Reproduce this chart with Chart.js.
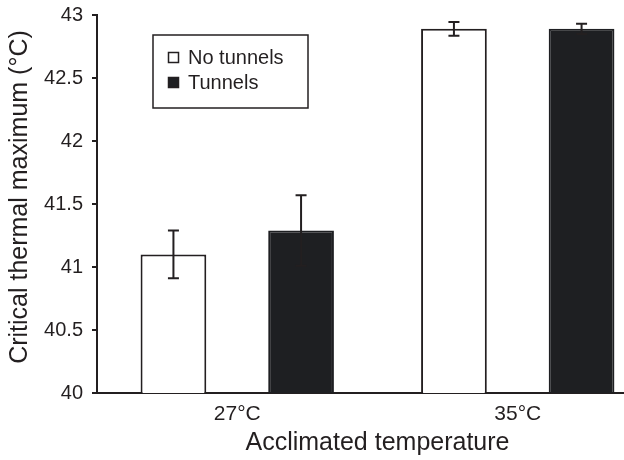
<!DOCTYPE html>
<html>
<head>
<meta charset="utf-8">
<script src="https://cdn.jsdelivr.net/npm/chart.js@4"></script>
<style>
  html, body { margin: 0; padding: 0; background: #fff; overflow: hidden; }
  /* the original plot is cut off at the right edge, so the canvas is wider than the window */
  #wrap { width: 624px; height: 460px; overflow: hidden; }
  #ctmaxChart { display: block; }
</style>
</head>
<body>
<div id="wrap"><canvas id="ctmaxChart" width="658" height="460"></canvas></div>
<script>
// --- Data ---
const categories = ["27°C", "35°C"];
const seriesNames = ["No tunnels", "Tunnels"];
const noTunnels = [41.10, 42.89];
const tunnels = [41.29, 42.89];
const noTunnelsErr = [0.19, 0.055];
const tunnelsErr = [0.28, 0.04];
const yTicks = [40, 40.5, 41, 41.5, 42, 42.5, 43];

const ink = "#231f20";
const fontFamily = "'Liberation Sans', Arial, Helvetica, sans-serif";

// --- Error bars (mean +/- SE) ---
const errorBars = {
  id: "errorBars",
  afterDatasetsDraw(chart) {
    const { ctx } = chart;
    const y = chart.scales.y;
    chart.data.datasets.forEach((ds, i) => {
      const meta = chart.getDatasetMeta(i);
      meta.data.forEach((bar, j) => {
        const v = ds.data[j], e = ds.err[j];
        const top = y.getPixelForValue(v + e);
        const bottom = y.getPixelForValue(v - e);
        const half = 5.5;
        ctx.save();
        ctx.strokeStyle = ink;
        ctx.lineWidth = 2;
        ctx.beginPath();
        ctx.moveTo(bar.x, top);
        ctx.lineTo(bar.x, bottom);
        ctx.moveTo(bar.x - half, top);
        ctx.lineTo(bar.x + half, top);
        ctx.moveTo(bar.x - half, bottom);
        ctx.lineTo(bar.x + half, bottom);
        ctx.stroke();
        ctx.restore();
      });
    });
  }
};

// --- Boxed legend inside the plot ---
const boxLegend = {
  id: "boxLegend",
  afterDraw(chart) {
    const { ctx } = chart;
    ctx.save();
    ctx.strokeStyle = ink;
    ctx.lineWidth = 1.5;
    ctx.strokeRect(153, 35, 155, 73);
    ctx.font = "20px " + fontFamily;
    ctx.textBaseline = "middle";
    chart.data.datasets.forEach((ds, i) => {
      const cy = 57.5 + i * 25;
      ctx.fillStyle = ds.backgroundColor;
      ctx.fillRect(168, cy - 5.5, 11, 11);
      ctx.lineWidth = 1.5;
      ctx.strokeStyle = ink;
      ctx.strokeRect(168.5, cy - 5, 10, 10);
      ctx.fillStyle = ink;
      ctx.fillText(ds.label, 188, cy + 1);
    });
    ctx.restore();
  }
};

const ctx = document.getElementById("ctmaxChart").getContext("2d");
new Chart(ctx, {
  type: "bar",
  data: {
    labels: categories,
    datasets: [
      {
        label: seriesNames[0],
        data: noTunnels,
        err: noTunnelsErr,
        backgroundColor: "#ffffff",
        borderColor: ink,
        borderWidth: 2
      },
      {
        label: seriesNames[1],
        data: tunnels,
        err: tunnelsErr,
        backgroundColor: "#1e1f22",
        borderColor: "#1e1f22",
        borderWidth: 2
      }
    ]
  },
  options: {
    responsive: false,
    animation: false,
    devicePixelRatio: 1,
    categoryPercentage: 0.91,
    barPercentage: 0.515,
    layout: { padding: { top: 15, right: 0, bottom: 0, left: 0 } },
    plugins: {
      legend: { display: false },
      tooltip: { enabled: false }
    },
    scales: {
      x: {
        grid: { drawOnChartArea: false, drawTicks: false },
        border: { display: true, color: ink, width: 2 },
        ticks: { color: ink, padding: 9, font: { family: fontFamily, size: 21 } },
        title: {
          display: true,
          text: "Acclimated temperature",
          color: ink,
          padding: { top: 0, bottom: 2 },
          font: { family: fontFamily, size: 25 }
        },
        afterFit: (scale) => { scale.height = 67; }
      },
      y: {
        min: 40,
        max: 43,
        afterBuildTicks: (scale) => { scale.ticks = yTicks.map(v => ({ value: v })); },
        grid: { drawOnChartArea: false, drawTicks: true, tickLength: 5, color: ink, lineWidth: 2 },
        border: { display: true, color: ink, width: 2 },
        ticks: {
          color: ink,
          padding: 9,
          font: { family: fontFamily, size: 20 },
          callback: (value) => String(value)
        },
        title: {
          display: true,
          text: "  Critical thermal maximum (°C)",
          color: ink,
          padding: { top: 5, bottom: 0 },
          font: { family: fontFamily, size: 25 }
        },
        afterFit: (scale) => {
          scale.width = 97;
          scale.paddingTop = 0;
          scale.paddingBottom = 0;
        }
      }
    }
  },
  plugins: [errorBars, boxLegend]
});
</script>
</body>
</html>
